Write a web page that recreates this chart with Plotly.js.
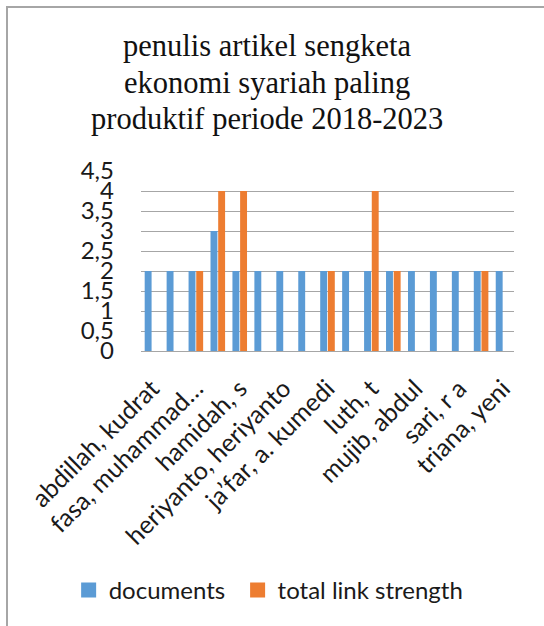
<!DOCTYPE html>
<html>
<head>
<meta charset="utf-8">
<script src="https://cdn.plot.ly/plotly-3.0.1.min.js"></script>
<style>
  html, body { margin: 0; padding: 0; background: #fff; overflow: hidden; }
  #frame { position: absolute; left: 0; top: 0; width: 544px; height: 626px; }
  #border { position: absolute; left: 6px; top: 6px; width: 700px; height: 800px;
            border-top: 2px solid #A6A6A6; border-left: 2px solid #A6A6A6; pointer-events: none; }
  #chart { position: absolute; left: 0; top: 0; width: 544px; height: 626px; }
</style>
</head>
<body>
<div id="frame">
  <div id="chart"></div>
  <div id="border"></div>
</div>
<script>
// Authors (17 categories; only every other label is printed in the reference)
const tickLabels = [
  "abdillah, kudrat", "fasa, muhammad…", "hamidah, s", "heriyanto, heriyanto",
  "ja’far, a. kumedi", "luth, t", "mujib, abdul", "sari, r a", "triana, yeni"
];
const categoryIndex = [0,1,2,3,4,5,6,7,8,9,10,11,12,13,14,15,16];
const labelledIndex = [0,2,4,6,8,10,12,14,16];
const documents =         [2,2,2,3,2,2,2,2,2,2,2,2,2,2,2,2,2];
const totalLinkStrength = [null,null,2,4,4,null,null,null,2,null,4,2,null,null,null,2,null];
const yTicks = [0,0.5,1,1.5,2,2.5,3,3.5,4,4.5];
const titleLines = ["penulis artikel sengketa", "ekonomi syariah paling", "produktif periode 2018-2023"];
const seriesNames = ["documents", "total link strength"];
const seriesColors = ["#5B9BD5", "#ED7D31"];

const tickFont = {family: "Lato, 'Open Sans', sans-serif", size: 24, color: "#1a1a1a"};
const xTickFont = {family: "Lato, 'Open Sans', sans-serif", size: 25, color: "#1a1a1a"};
const titleFont = {family: "'Liberation Serif', 'Times New Roman', serif", size: 30.5, color: "#111"};

const data = [
  {type: "bar", name: seriesNames[0], x: categoryIndex, y: documents,
   marker: {color: seriesColors[0]}, showlegend: false},
  {type: "bar", name: seriesNames[1], x: categoryIndex, y: totalLinkStrength,
   marker: {color: seriesColors[1]}, showlegend: false},
  // legend entries with larger square swatches
  {type: "scatter", mode: "markers", name: seriesNames[0], x: [null], y: [null],
   marker: {symbol: "square", size: 15, color: seriesColors[0]}, showlegend: true, legend: "legend"},
  {type: "scatter", mode: "markers", name: seriesNames[1], x: [null], y: [null],
   marker: {symbol: "square", size: 15, color: seriesColors[1]}, showlegend: true, legend: "legend2"}
];

const titleY = [1.697, 1.491, 1.291];
const annotations = titleLines.map((t, i) => ({
  text: t, xref: "paper", yref: "paper", x: 0.337, y: titleY[i],
  xanchor: "center", yanchor: "middle", showarrow: false, font: titleFont
}));

const legendBase = {orientation: "h", xanchor: "left", y: -1.33, yanchor: "middle",
                    font: tickFont, itemwidth: 30, bgcolor: "rgba(0,0,0,0)"};

const layout = {
  width: 544, height: 626,
  paper_bgcolor: "#fff", plot_bgcolor: "#fff",
  separators: ",.",
  margin: {l: 141, r: 30, t: 171, b: 275},
  annotations: annotations,
  barmode: "group", bargap: 0.3, bargroupgap: 0.1,
  showlegend: true,
  legend: Object.assign({}, legendBase, {x: -0.194}),
  legend2: Object.assign({}, legendBase, {x: 0.259}),
  xaxis: {
    range: [-0.5, 16.5], tickmode: "array", tickvals: labelledIndex, ticktext: tickLabels,
    tickangle: -45, tickfont: xTickFont, showgrid: false, zeroline: false,
    showline: true, linecolor: "#A6A6A6", linewidth: 1, ticks: "", ticklabelstandoff: 12,
    fixedrange: true
  },
  yaxis: {
    range: [0, 4.5], tickmode: "array", tickvals: yTicks,
    tickfont: tickFont, showgrid: true, gridcolor: "#A6A6A6", gridwidth: 1,
    zeroline: true, zerolinecolor: "#A6A6A6", showline: false, ticks: "",
    ticklabelstandoff: 26, fixedrange: true
  }
};

Plotly.newPlot("chart", data, layout, {displayModeBar: false, staticPlot: true});
</script>
</body>
</html>
